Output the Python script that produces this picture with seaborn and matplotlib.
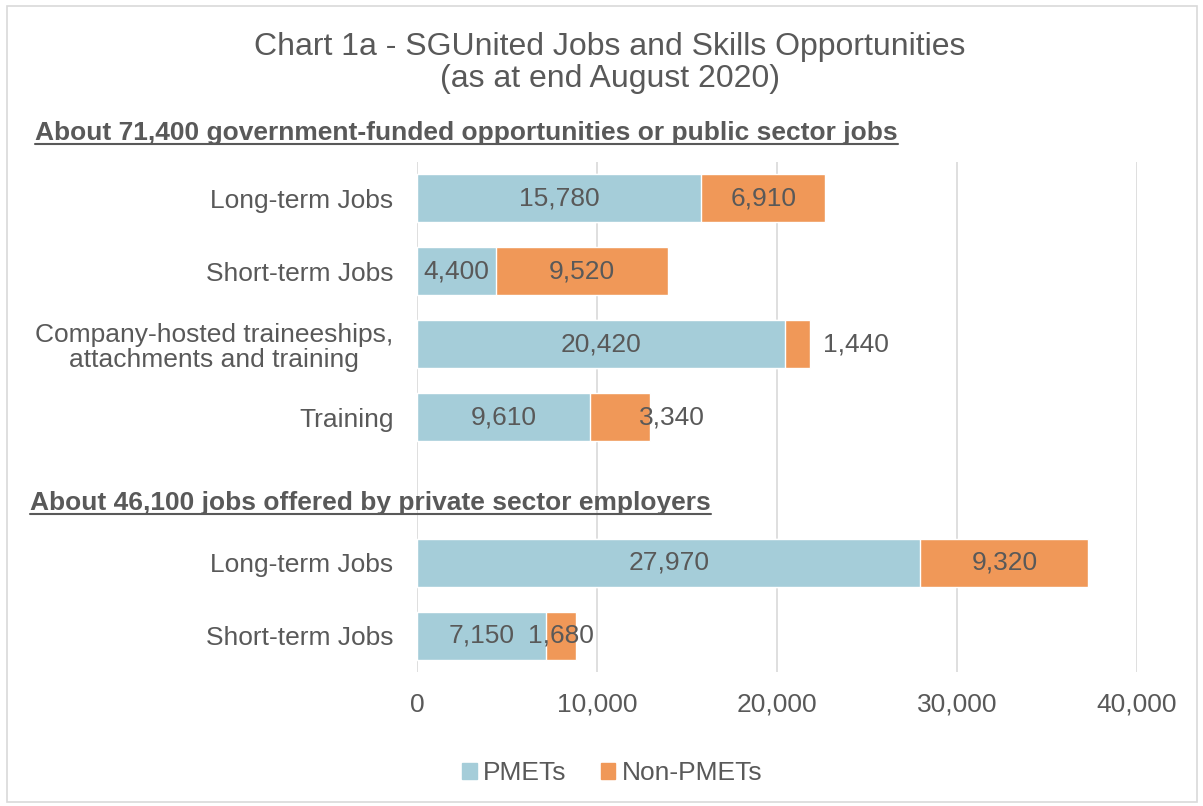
import pandas as pd
import matplotlib.pyplot as plt
import matplotlib.patches as mpatches
from matplotlib.lines import Line2D
from matplotlib.ticker import FuncFormatter
import seaborn as sns

# Chart data
row_labels = ["Long-term Jobs", "Short-term Jobs",
              "Company-hosted traineeships,\nattachments and training",
              "Training", "", "Long-term Jobs", "Short-term Jobs"]
row_keys = ["g1", "g2", "g3", "g4", "gap", "p1", "p2"]
bar_keys = ["g1", "g2", "g3", "g4", "p1", "p2"]
pmets = [15780, 4400, 20420, 9610, 27970, 7150]
non_pmets = [6910, 9520, 1440, 3340, 9320, 1680]
header_gov = "About 71,400 government-funded opportunities or public sector jobs"
header_priv = "About 46,100 jobs offered by private sector employers"
title = "Chart 1a - SGUnited Jobs and Skills Opportunities\n(as at end August 2020)"

df = pd.DataFrame({"key": bar_keys, "PMETs": pmets, "Non-PMETs": non_pmets})
df["total"] = df["PMETs"] + df["Non-PMETs"]

blue = "#A5CDD9"
orange = "#F09858"
grey = "#595959"
fs = 19

sns.set_style("white")
plt.rcParams["font.family"] = ["Liberation Sans", "DejaVu Sans"]

fig = plt.figure(figsize=(12.03, 8.06), dpi=100)
ax = fig.add_axes([417 / 1203, 1 - 672 / 806, 720 / 1203, 510 / 806])

# stacked bars: total first (orange), PMETs on top (blue)
sns.barplot(data=df, y="key", x="total", order=row_keys, orient="h",
            color=orange, saturation=1, width=0.66, ax=ax, zorder=2)
sns.barplot(data=df, y="key", x="PMETs", order=row_keys, orient="h",
            color=blue, saturation=1, width=0.66, ax=ax, zorder=3)

ax.set_xlim(0, 40000)
ax.set_xticks([0, 10000, 20000, 30000, 40000])
ax.xaxis.set_major_formatter(FuncFormatter(lambda v, p: f"{int(v):,}"))
ax.set_yticks(range(len(row_labels)))
ax.set_yticklabels(row_labels, ha="right", multialignment="center")
for lab in ax.get_yticklabels():
    lab.set_linespacing(1.05)
ax.tick_params(axis="both", length=0, labelsize=fs, labelcolor=grey)
ax.tick_params(axis="y", pad=17)
ax.tick_params(axis="x", pad=15)
ax.set_xlabel("")
ax.set_ylabel("")
ax.grid(axis="x", color="#D9D9D9", linewidth=1.2, zorder=0)
ax.set_axisbelow(True)
for s in ax.spines.values():
    s.set_visible(False)

# data labels
ypos = {k: row_keys.index(k) for k in bar_keys}
for _, r in df.iterrows():
    y = ypos[r["key"]]
    ax.text(r["PMETs"] / 2, y, f"{r['PMETs']:,}", ha="center", va="center",
            fontsize=fs, color=grey, zorder=5)
    if r["key"] == "g3":
        ax.annotate(f"{r['Non-PMETs']:,}", (r["total"], y), xytext=(9, 0),
                    textcoords="offset points", ha="left", va="center",
                    fontsize=fs, color=grey, zorder=5)
    elif r["key"] == "g4":
        ax.annotate(f"{r['Non-PMETs']:,}", (r["total"], y), xytext=(-8, 0),
                    textcoords="offset points", ha="left", va="center",
                    fontsize=fs, color=grey, zorder=5)
    else:
        ax.text(r["PMETs"] + r["Non-PMETs"] / 2, y, f"{r['Non-PMETs']:,}",
                ha="center", va="center", fontsize=fs, color=grey, zorder=5)

# title and section headers
fig.text(0.507, 1 - 63 / 806, title, ha="center", va="center", fontsize=23,
         color=grey, linespacing=1.1)

renderer = fig.canvas.get_renderer()
for txt, x0, y0 in [(header_gov, 35, 133), (header_priv, 30, 503)]:
    t = fig.text(x0 / 1203, 1 - y0 / 806, txt, ha="left", va="center",
                 fontsize=fs, fontweight="bold", color=grey)
    bb = t.get_window_extent(renderer=renderer)
    uy = (bb.y0 + 1) / fig.bbox.height
    fig.add_artist(Line2D([bb.x0 / fig.bbox.width, bb.x1 / fig.bbox.width],
                          [uy, uy], color=grey, linewidth=1.5))

# legend
handles = [mpatches.Patch(color=blue, label="PMETs"),
           mpatches.Patch(color=orange, label="Non-PMETs")]
fig.legend(handles=handles, loc="center", bbox_to_anchor=(0.509, 1 - 773 / 806),
           ncol=2, frameon=False, fontsize=fs, handlelength=0.55,
           handleheight=0.55, handletextpad=0.25, columnspacing=1.3,
           labelcolor=grey)

# outer chart border
fig.add_artist(mpatches.Rectangle((7 / 1203, 4 / 806), 1190 / 1203, 796 / 806,
                                  fill=False, edgecolor="#D9D9D9",
                                  linewidth=1.2, transform=fig.transFigure))

fig.savefig("out.png", dpi=100)
